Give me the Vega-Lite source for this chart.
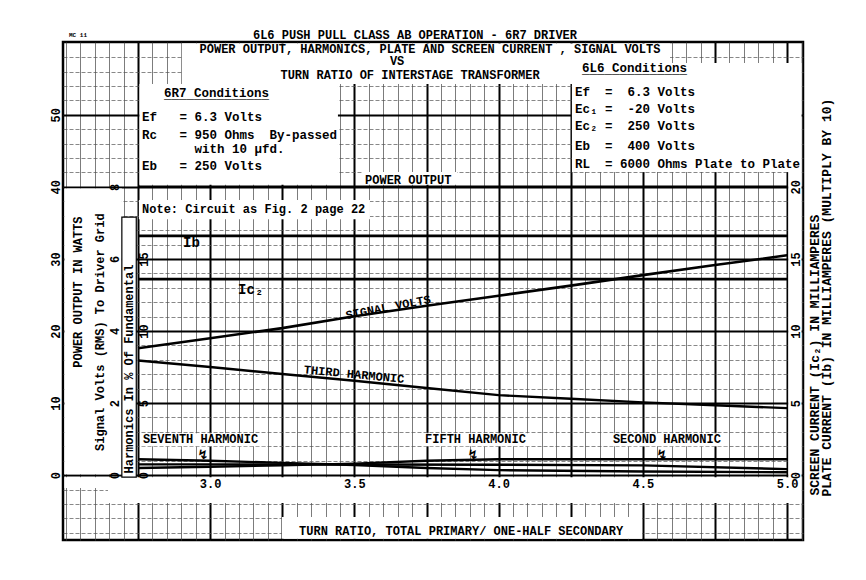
{
  "$schema": "https://vega.github.io/schema/vega-lite/v6.json",
  "width": 740,
  "height": 498,
  "autosize": {"type": "none"},
  "padding": {"left": 63, "top": 42, "right": 63, "bottom": 40},
  "background": "white",
  "config": {
    "view": {"stroke": "black", "strokeWidth": 2.5},
    "font": "Liberation Mono",
    "text": {"font": "Liberation Mono", "fontWeight": "bold", "color": "black"},
    "axis": {"labelFont": "Liberation Mono", "labelFontWeight": "bold", "labelFontSize": 12, "labelColor": "black", "labelOverlap": false, "labelFlush": false}
  },
  "datasets": {
    "power": [
      {"ratio": 2.75, "watts": 40},
      {"ratio": 5.0, "watts": 40}
    ],
    "signal": [
      {"ratio": 2.75, "volts": 3.52},
      {"ratio": 3.0, "volts": 3.80},
      {"ratio": 3.25, "volts": 4.08},
      {"ratio": 3.5, "volts": 4.41},
      {"ratio": 3.75, "volts": 4.70},
      {"ratio": 4.0, "volts": 4.98},
      {"ratio": 4.25, "volts": 5.26},
      {"ratio": 4.5, "volts": 5.55},
      {"ratio": 4.75, "volts": 5.83},
      {"ratio": 5.0, "volts": 6.10}
    ],
    "harmonics": [
      {"ratio": 2.75, "harmonic": "Third", "pct": 7.95},
      {"ratio": 3.0, "harmonic": "Third", "pct": 7.5},
      {"ratio": 3.25, "harmonic": "Third", "pct": 7.02},
      {"ratio": 3.5, "harmonic": "Third", "pct": 6.55},
      {"ratio": 3.75, "harmonic": "Third", "pct": 6.05},
      {"ratio": 4.0, "harmonic": "Third", "pct": 5.55},
      {"ratio": 4.25, "harmonic": "Third", "pct": 5.3},
      {"ratio": 4.5, "harmonic": "Third", "pct": 5.05},
      {"ratio": 4.75, "harmonic": "Third", "pct": 4.85},
      {"ratio": 5.0, "harmonic": "Third", "pct": 4.65},
      {"ratio": 2.75, "harmonic": "Seventh", "pct": 1.1},
      {"ratio": 3.0, "harmonic": "Seventh", "pct": 1.0},
      {"ratio": 3.25, "harmonic": "Seventh", "pct": 0.85},
      {"ratio": 3.5, "harmonic": "Seventh", "pct": 0.7},
      {"ratio": 3.75, "harmonic": "Seventh", "pct": 0.5},
      {"ratio": 4.0, "harmonic": "Seventh", "pct": 0.35},
      {"ratio": 4.5, "harmonic": "Seventh", "pct": 0.25},
      {"ratio": 5.0, "harmonic": "Seventh", "pct": 0.2},
      {"ratio": 2.75, "harmonic": "Fifth", "pct": 0.5},
      {"ratio": 3.0, "harmonic": "Fifth", "pct": 0.58},
      {"ratio": 3.25, "harmonic": "Fifth", "pct": 0.68},
      {"ratio": 3.5, "harmonic": "Fifth", "pct": 0.8},
      {"ratio": 3.75, "harmonic": "Fifth", "pct": 1.0},
      {"ratio": 4.0, "harmonic": "Fifth", "pct": 1.1},
      {"ratio": 4.5, "harmonic": "Fifth", "pct": 1.1},
      {"ratio": 5.0, "harmonic": "Fifth", "pct": 1.1},
      {"ratio": 2.75, "harmonic": "Second", "pct": 0.75},
      {"ratio": 3.0, "harmonic": "Second", "pct": 0.75},
      {"ratio": 3.5, "harmonic": "Second", "pct": 0.74},
      {"ratio": 4.0, "harmonic": "Second", "pct": 0.72},
      {"ratio": 4.5, "harmonic": "Second", "pct": 0.68},
      {"ratio": 5.0, "harmonic": "Second", "pct": 0.42}
    ],
    "currents": [
      {"ratio": 2.75, "current": "Ib", "ma": 16.6},
      {"ratio": 5.0, "current": "Ib", "ma": 16.6},
      {"ratio": 2.75, "current": "Ic2", "ma": 13.6},
      {"ratio": 5.0, "current": "Ic2", "ma": 13.6}
    ],
    "boxes": [
      {"ratio_from": 2.902, "ratio_to": 4.594, "level_from": 27.13, "level_to": 29.94},
      {"ratio_from": 2.755, "ratio_to": 3.443, "level_from": 20.15, "level_to": 27.13},
      {"ratio_from": 4.254, "ratio_to": 5.050, "level_from": 21.03, "level_to": 28.59},
      {"ratio_from": 2.753, "ratio_to": 3.554, "level_from": 17.76, "level_to": 19.08},
      {"ratio_from": 3.526, "ratio_to": 3.856, "level_from": 20.15, "level_to": 21.03},
      {"ratio_from": 2.495, "ratio_to": 2.694, "level_from": 0.07, "level_to": 19.88},
      {"ratio_from": 2.495, "ratio_to": 5.050, "level_from": -0.90, "level_to": -0.14},
      {"ratio_from": 2.646, "ratio_to": 5.050, "level_from": -1.94, "level_to": -0.90},
      {"ratio_from": 3.249, "ratio_to": 4.497, "level_from": -4.41, "level_to": -2.91},
      {"ratio_from": 5.004, "ratio_to": 5.050, "level_from": -0.14, "level_to": 21.03},
      {"ratio_from": 2.757, "ratio_to": 3.190, "level_from": 2.0, "level_to": 2.91},
      {"ratio_from": 3.734, "ratio_to": 4.112, "level_from": 2.0, "level_to": 2.91},
      {"ratio_from": 4.386, "ratio_to": 4.792, "level_from": 2.0, "level_to": 2.91}
    ],
    "framed": [
      {"ratio_from": 2.694, "ratio_to": 2.744, "level_from": -0.14, "level_to": 17.90}
    ],
    "notes": [
      {"role": "title", "text": "6L6 PUSH PULL CLASS AB OPERATION - 6R7 DRIVER", "ratio": 3.710, "level": 30.536},
      {"role": "title", "text": "POWER OUTPUT, HARMONICS, PLATE AND SCREEN CURRENT , SIGNAL VOLTS", "ratio": 3.762, "level": 29.56},
      {"role": "title", "text": "VS", "ratio": 3.648, "level": 28.70},
      {"role": "title", "text": "TURN RATIO OF INTERSTAGE TRANSFORMER", "ratio": 3.693, "level": 27.79},
      {"role": "title", "text": "TURN RATIO, TOTAL PRIMARY/ ONE-HALF SECONDARY", "ratio": 3.870, "level": -3.886},
      {"role": "heading", "text": "6R7 Conditions", "ratio": 2.840, "level": 26.51},
      {"role": "heading", "text": "6L6 Conditions", "ratio": 4.289, "level": 28.25},
      {"role": "cond", "text": "Ef\u00a0\u00a0\u00a0=\u00a06.3 Volts", "ratio": 2.764, "level": 24.85},
      {"role": "cond", "text": "Rc\u00a0\u00a0\u00a0=\u00a0950 Ohms\u00a0\u00a0By-passed", "ratio": 2.764, "level": 23.60},
      {"role": "cond", "text": "with 10 μfd.", "ratio": 2.946, "level": 22.63},
      {"role": "cond", "text": "Eb\u00a0\u00a0\u00a0=\u00a0250 Volts", "ratio": 2.764, "level": 21.45},
      {"role": "cond", "text": "Ef\u00a0\u00a0=\u00a0\u00a06.3 Volts", "ratio": 4.265, "level": 26.58},
      {"role": "cond", "text": "Ec₁\u00a0=\u00a0\u00a0-20 Volts", "ratio": 4.265, "level": 25.40},
      {"role": "cond", "text": "Ec₂\u00a0=\u00a0\u00a0250 Volts", "ratio": 4.265, "level": 24.22},
      {"role": "cond", "text": "Eb\u00a0\u00a0=\u00a0\u00a0400 Volts", "ratio": 4.265, "level": 22.83},
      {"role": "cond", "text": "RL\u00a0\u00a0=\u00a06000 Ohms Plate to Plate", "ratio": 4.265, "level": 21.59},
      {"role": "label", "text": "Note: Circuit as Fig. 2 page 22", "ratio": 2.764, "level": 18.46},
      {"role": "label", "text": "POWER OUTPUT", "ratio": 3.537, "level": 20.48},
      {"role": "label", "text": "SEVENTH HARMONIC", "ratio": 2.767, "level": 2.5},
      {"role": "label", "text": "FIFTH HARMONIC", "ratio": 3.745, "level": 2.5},
      {"role": "label", "text": "SECOND HARMONIC", "ratio": 4.396, "level": 2.5},
      {"role": "sym", "text": "Ib", "ratio": 2.906, "level": 16.10},
      {"role": "sym", "text": "Ic₂", "ratio": 3.097, "level": 12.84},
      {"role": "sig", "text": "SIGNAL VOLTS", "ratio": 3.617, "level": 11.66},
      {"role": "third", "text": "THIRD HARMONIC", "ratio": 3.499, "level": 7.01},
      {"role": "arrow", "text": "↯", "ratio": 2.975, "level": 1.38},
      {"role": "arrow", "text": "↯", "ratio": 3.911, "level": 1.38},
      {"role": "arrow", "text": "↯", "ratio": 4.566, "level": 1.38},
      {"role": "vtitle", "text": "POWER OUTPUT IN WATTS", "ratio": 2.542, "level": 12.70},
      {"role": "vtitle", "text": "Signal Volts (RMS) To Driver Grid", "ratio": 2.618, "level": 9.92},
      {"role": "vtitle", "text": "Harmonics In % Of Fundamental", "ratio": 2.719, "level": 7.36},
      {"role": "rtitle", "text": "SCREEN CURRENT (Ic₂) IN MILLIAMPERES", "ratio": 5.097, "level": 8.33},
      {"role": "rtitle", "text": "PLATE CURRENT (Ib) IN MILLIAMPERES (MULTIPLY BY 10)", "ratio": 5.138, "level": 12.32},
      {"role": "mc", "text": "MC 11", "ratio": 2.542, "level": 30.54}
    ]
  },
  "layer": [
    {
      "data": {"name": "power"},
      "mark": {"type": "point", "opacity": 0},
      "encoding": {
        "x": {"field": "ratio", "type": "quantitative", "scale": {"domain": [2.49, 5.055], "nice": false, "zero": false},
          "axis": {"orient": "bottom", "grid": true, "labels": false, "ticks": false, "domain": false, "title": null, "gridColor": "#444", "gridWidth": 0.7, "gridOpacity": 1,
            "values": [2.5,2.55,2.6,2.65,2.7,2.75,2.8,2.85,2.9,2.95,3,3.05,3.1,3.15,3.2,3.25,3.3,3.35,3.4,3.45,3.5,3.55,3.6,3.65,3.7,3.75,3.8,3.85,3.9,3.95,4,4.05,4.1,4.15,4.2,4.25,4.3,4.35,4.4,4.45,4.5,4.55,4.6,4.65,4.7,4.75,4.8,4.85,4.9,4.95,5,5.05]}},
        "y": {"field": "watts", "type": "quantitative", "scale": {"domain": [-4.5, 30.05], "nice": false, "zero": false},
          "axis": {"orient": "left", "grid": true, "labels": false, "ticks": false, "domain": false, "title": null, "gridColor": "#555", "gridWidth": 0.7, "gridOpacity": 1, "gridDash": [4, 2],
            "values": [-4,-3,-2,-1,0,1,2,3,4,5,6,7,8,9,10,11,12,13,14,15,16,17,18,19,20,21,22,23,24,25,26,27,28,29]}}
      }
    },
    {
      "data": {"name": "power"},
      "mark": {"type": "point", "opacity": 0},
      "encoding": {
        "x": {"field": "ratio", "type": "quantitative", "scale": {"domain": [2.49, 5.055], "nice": false, "zero": false},
          "axis": {"orient": "bottom", "grid": true, "labels": false, "ticks": false, "domain": false, "title": null, "gridColor": "black", "gridWidth": 2, "gridOpacity": 1,
            "values": [2.75, 3, 3.25, 3.5, 3.75, 4, 4.25, 4.5, 4.75, 5]}},
        "y": {"field": "watts", "type": "quantitative", "scale": {"domain": [-4.5, 30.05], "nice": false, "zero": false},
          "axis": {"orient": "left", "grid": true, "labels": false, "ticks": false, "domain": false, "title": null, "gridColor": "black", "gridWidth": 2, "gridOpacity": 1,
            "values": [0, 5, 10, 15, 20, 25]}}
      }
    },
    {
      "data": {"name": "boxes"},
      "mark": {"type": "rect", "fill": "white"},
      "encoding": {
        "x": {"field": "ratio_from", "type": "quantitative", "scale": {"domain": [2.49, 5.055], "nice": false, "zero": false}, "axis": null},
        "x2": {"field": "ratio_to"},
        "y": {"field": "level_from", "type": "quantitative", "scale": {"domain": [-4.5, 30.05], "nice": false, "zero": false}, "axis": null},
        "y2": {"field": "level_to"}
      }
    },
    {
      "data": {"name": "framed"},
      "mark": {"type": "rect", "fill": "white", "stroke": "black", "strokeWidth": 1.2},
      "encoding": {
        "x": {"field": "ratio_from", "type": "quantitative", "scale": {"domain": [2.49, 5.055], "nice": false, "zero": false}, "axis": null},
        "x2": {"field": "ratio_to"},
        "y": {"field": "level_from", "type": "quantitative", "scale": {"domain": [-4.5, 30.05], "nice": false, "zero": false}, "axis": null},
        "y2": {"field": "level_to"}
      }
    },
    {
      "data": {"name": "power"},
      "mark": {"type": "line", "color": "black", "strokeWidth": 2.5},
      "encoding": {
        "x": {"field": "ratio", "type": "quantitative", "scale": {"domain": [2.49, 5.055], "nice": false, "zero": false},
          "axis": {"orient": "bottom", "offset": -64, "values": [3, 3.5, 4, 4.5, 5], "format": ".1f", "grid": false, "ticks": false, "domain": false, "labelPadding": 2, "labelBaseline": "top", "zindex": 1, "title": null}},
        "y": {"field": "watts", "type": "quantitative", "scale": {"domain": [-9, 60.1], "nice": false, "zero": false},
          "axis": {"orient": "left", "offset": 0, "values": [0, 10, 20, 30, 40, 50], "grid": false, "ticks": false, "domain": false, "labelAngle": 270, "labelAlign": "center", "labelBaseline": "bottom", "labelPadding": 1, "zindex": 1, "title": null}}
      }
    },
    {
      "data": {"name": "signal"},
      "mark": {"type": "line", "color": "black", "strokeWidth": 2.6},
      "encoding": {
        "x": {"field": "ratio", "type": "quantitative", "scale": {"domain": [2.49, 5.055], "nice": false, "zero": false}, "axis": null},
        "y": {"field": "volts", "type": "quantitative", "scale": {"domain": [-1.8, 12.02], "nice": false, "zero": false},
          "axis": {"orient": "left", "offset": -59, "values": [0, 2, 4, 6, 8], "grid": false, "ticks": false, "domain": false, "labelAngle": 270, "labelAlign": "center", "labelBaseline": "bottom", "labelPadding": 1, "zindex": 1, "title": null}}
      }
    },
    {
      "data": {"name": "harmonics"},
      "mark": {"type": "line", "color": "black", "strokeWidth": 2.4},
      "encoding": {
        "x": {"field": "ratio", "type": "quantitative", "scale": {"domain": [2.49, 5.055], "nice": false, "zero": false}, "axis": null},
        "y": {"field": "pct", "type": "quantitative", "scale": {"domain": [-4.5, 30.05], "nice": false, "zero": false},
          "axis": {"orient": "left", "offset": -88, "values": [0, 5, 10, 15], "grid": false, "ticks": false, "domain": false, "labelAngle": 270, "labelAlign": "center", "labelBaseline": "bottom", "labelPadding": 1, "zindex": 1, "title": null}},
        "detail": {"field": "harmonic", "type": "nominal"}
      }
    },
    {
      "data": {"name": "currents"},
      "mark": {"type": "line", "color": "black", "strokeWidth": 2.6},
      "encoding": {
        "x": {"field": "ratio", "type": "quantitative", "scale": {"domain": [2.49, 5.055], "nice": false, "zero": false}, "axis": null},
        "y": {"field": "ma", "type": "quantitative", "scale": {"domain": [-4.5, 30.05], "nice": false, "zero": false},
          "axis": {"orient": "right", "offset": -15, "values": [0, 5, 10, 15, 20], "grid": false, "ticks": false, "domain": false, "labelAngle": 270, "labelAlign": "center", "labelBaseline": "top", "labelPadding": 2, "zindex": 1, "title": null}},
        "detail": {"field": "current", "type": "nominal"}
      }
    },
    {
      "data": {"name": "notes"},
      "transform": [{"filter": "datum.role === 'title'"}],
      "mark": {"type": "text", "fontSize": 12, "align": "center", "baseline": "middle"},
      "encoding": {
        "x": {"field": "ratio", "type": "quantitative", "scale": {"domain": [2.49, 5.055], "nice": false, "zero": false}, "axis": null},
        "y": {"field": "level", "type": "quantitative", "scale": {"domain": [-4.5, 30.05], "nice": false, "zero": false}, "axis": null},
        "text": {"field": "text"}
      }
    },
    {
      "data": {"name": "notes"},
      "transform": [{"filter": "datum.role === 'heading' || datum.role === 'cond'"}],
      "mark": {"type": "text", "fontSize": 12.5, "align": "left", "baseline": "middle"},
      "encoding": {
        "x": {"field": "ratio", "type": "quantitative", "scale": {"domain": [2.49, 5.055], "nice": false, "zero": false}, "axis": null},
        "y": {"field": "level", "type": "quantitative", "scale": {"domain": [-4.5, 30.05], "nice": false, "zero": false}, "axis": null},
        "text": {"field": "text"}
      }
    },
    {
      "data": {"name": "notes"},
      "transform": [{"filter": "datum.role === 'heading'"}],
      "mark": {"type": "text", "fontSize": 12.5, "align": "left", "baseline": "middle", "dy": 1},
      "encoding": {
        "x": {"field": "ratio", "type": "quantitative", "scale": {"domain": [2.49, 5.055], "nice": false, "zero": false}, "axis": null},
        "y": {"field": "level", "type": "quantitative", "scale": {"domain": [-4.5, 30.05], "nice": false, "zero": false}, "axis": null},
        "text": {"value": "______________"}
      }
    },
    {
      "data": {"name": "notes"},
      "transform": [{"filter": "datum.role === 'label'"}],
      "mark": {"type": "text", "fontSize": 12, "align": "left", "baseline": "middle"},
      "encoding": {
        "x": {"field": "ratio", "type": "quantitative", "scale": {"domain": [2.49, 5.055], "nice": false, "zero": false}, "axis": null},
        "y": {"field": "level", "type": "quantitative", "scale": {"domain": [-4.5, 30.05], "nice": false, "zero": false}, "axis": null},
        "text": {"field": "text"}
      }
    },
    {
      "data": {"name": "notes"},
      "transform": [{"filter": "datum.role === 'sym'"}],
      "mark": {"type": "text", "fontSize": 14, "align": "left", "baseline": "middle"},
      "encoding": {
        "x": {"field": "ratio", "type": "quantitative", "scale": {"domain": [2.49, 5.055], "nice": false, "zero": false}, "axis": null},
        "y": {"field": "level", "type": "quantitative", "scale": {"domain": [-4.5, 30.05], "nice": false, "zero": false}, "axis": null},
        "text": {"field": "text"}
      }
    },
    {
      "data": {"name": "notes"},
      "transform": [{"filter": "datum.role === 'sig'"}],
      "mark": {"type": "text", "fontSize": 12, "align": "center", "baseline": "middle", "angle": -11},
      "encoding": {
        "x": {"field": "ratio", "type": "quantitative", "scale": {"domain": [2.49, 5.055], "nice": false, "zero": false}, "axis": null},
        "y": {"field": "level", "type": "quantitative", "scale": {"domain": [-4.5, 30.05], "nice": false, "zero": false}, "axis": null},
        "text": {"field": "text"}
      }
    },
    {
      "data": {"name": "notes"},
      "transform": [{"filter": "datum.role === 'third'"}],
      "mark": {"type": "text", "fontSize": 12, "align": "center", "baseline": "middle", "angle": 5.5},
      "encoding": {
        "x": {"field": "ratio", "type": "quantitative", "scale": {"domain": [2.49, 5.055], "nice": false, "zero": false}, "axis": null},
        "y": {"field": "level", "type": "quantitative", "scale": {"domain": [-4.5, 30.05], "nice": false, "zero": false}, "axis": null},
        "text": {"field": "text"}
      }
    },
    {
      "data": {"name": "notes"},
      "transform": [{"filter": "datum.role === 'arrow'"}],
      "mark": {"type": "text", "fontSize": 13, "font": "DejaVu Sans", "fontWeight": "bold", "align": "center", "baseline": "middle"},
      "encoding": {
        "x": {"field": "ratio", "type": "quantitative", "scale": {"domain": [2.49, 5.055], "nice": false, "zero": false}, "axis": null},
        "y": {"field": "level", "type": "quantitative", "scale": {"domain": [-4.5, 30.05], "nice": false, "zero": false}, "axis": null},
        "text": {"field": "text"}
      }
    },
    {
      "data": {"name": "notes"},
      "transform": [{"filter": "datum.role === 'vtitle'"}],
      "mark": {"type": "text", "fontSize": 12, "align": "center", "baseline": "middle", "angle": 270},
      "encoding": {
        "x": {"field": "ratio", "type": "quantitative", "scale": {"domain": [2.49, 5.055], "nice": false, "zero": false}, "axis": null},
        "y": {"field": "level", "type": "quantitative", "scale": {"domain": [-4.5, 30.05], "nice": false, "zero": false}, "axis": null},
        "text": {"field": "text"}
      }
    },
    {
      "data": {"name": "notes"},
      "transform": [{"filter": "datum.role === 'rtitle'"}],
      "mark": {"type": "text", "fontSize": 13, "align": "center", "baseline": "middle", "angle": 270},
      "encoding": {
        "x": {"field": "ratio", "type": "quantitative", "scale": {"domain": [2.49, 5.055], "nice": false, "zero": false}, "axis": null},
        "y": {"field": "level", "type": "quantitative", "scale": {"domain": [-4.5, 30.05], "nice": false, "zero": false}, "axis": null},
        "text": {"field": "text"}
      }
    },
    {
      "data": {"name": "notes"},
      "transform": [{"filter": "datum.role === 'mc'"}],
      "mark": {"type": "text", "fontSize": 6, "align": "center", "baseline": "middle"},
      "encoding": {
        "x": {"field": "ratio", "type": "quantitative", "scale": {"domain": [2.49, 5.055], "nice": false, "zero": false}, "axis": null},
        "y": {"field": "level", "type": "quantitative", "scale": {"domain": [-4.5, 30.05], "nice": false, "zero": false}, "axis": null},
        "text": {"field": "text"}
      }
    }
  ],
  "resolve": {"scale": {"x": "independent", "y": "independent"}}
}
